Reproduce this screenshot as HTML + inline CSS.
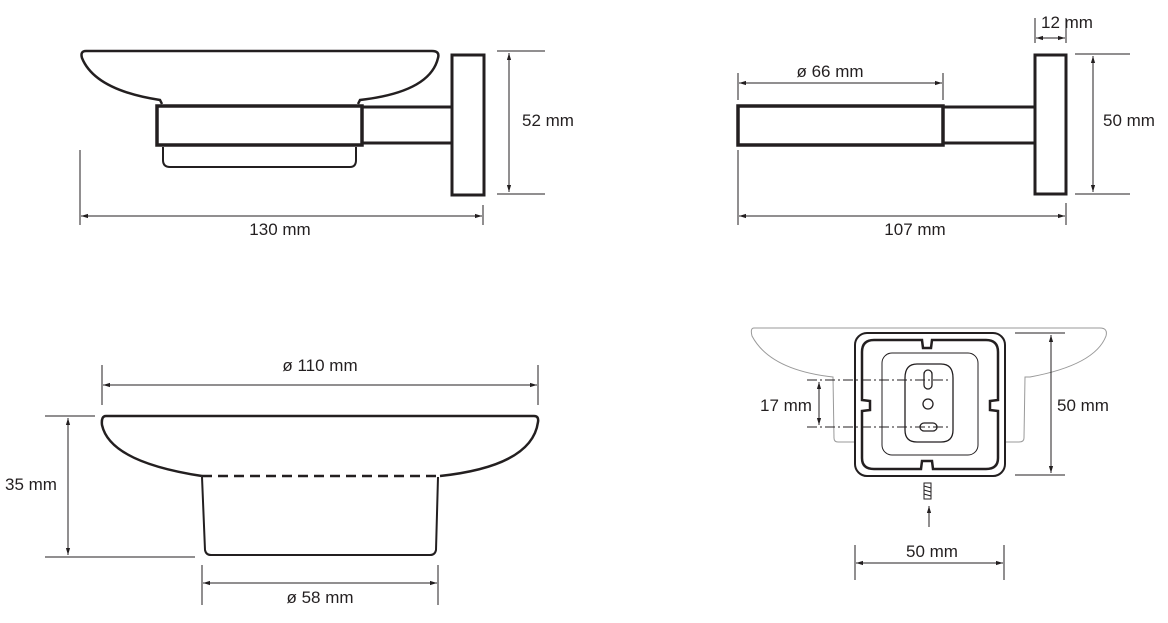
<!DOCTYPE html>
<html><head><meta charset="utf-8"><style>
html,body{margin:0;padding:0;background:#fff;width:1168px;height:623px;overflow:hidden}
svg text{font-family:"Liberation Sans",sans-serif;font-size:17px;fill:#231f20}
</style></head><body>
<svg width="1168" height="623" viewBox="0 0 1168 623" xmlns="http://www.w3.org/2000/svg">
<defs>
<marker id="a" viewBox="0 0 10 10" refX="10" refY="5" markerWidth="7" markerHeight="7" orient="auto-start-reverse"><path d="M0,2 L10,5 L0,8 z" fill="#231f20"/></marker>
</defs>
<g stroke="#231f20" fill="none">
<!-- TOP LEFT -->
<path d="M162,104 L160,100 Q95,90 82,58 Q80,51 86,51 L432,51 Q440,51 438,58 Q430,92 360,100 L358,104" stroke-width="2.5"/>
<rect x="157" y="106" width="205" height="39" stroke-width="3.5"/>
<rect x="362" y="107" width="90" height="36" stroke-width="3"/>
<rect x="452" y="55" width="32" height="140" stroke-width="3"/>
<path d="M163,147 L163,160 Q163,167 170,167 L350,167 Q356,167 356,160 L356,147" stroke-width="2"/>
<g stroke-width="1">
<path d="M497,51 H545 M497,194 H545"/>
<path d="M509,53 V192" marker-start="url(#a)" marker-end="url(#a)"/>
<path d="M80,150 V225 M483,205 V225"/>
<path d="M81,216 H482" marker-start="url(#a)" marker-end="url(#a)"/>
</g>
<!-- TOP RIGHT -->
<rect x="738" y="106" width="205" height="39" stroke-width="3.5"/>
<rect x="943" y="107" width="92" height="36" stroke-width="3"/>
<rect x="1035" y="55" width="31" height="139" stroke-width="3"/>
<g stroke-width="1">
<path d="M738,73 V100 M943,73 V100"/>
<path d="M739,83 H942" marker-start="url(#a)" marker-end="url(#a)"/>
<path d="M1035,18 V43 M1066,18 V43"/>
<path d="M1036,38 H1065" marker-start="url(#a)" marker-end="url(#a)"/>
<path d="M1075,54 H1130 M1075,194 H1130"/>
<path d="M1093,56 V192" marker-start="url(#a)" marker-end="url(#a)"/>
<path d="M738,150 V225 M1066,203 V225"/>
<path d="M739,216 H1065" marker-start="url(#a)" marker-end="url(#a)"/>
</g>
<!-- BOTTOM LEFT -->
<path d="M106,416 L534,416 Q539,416 538,422 Q532,466 440,476 M202,476 Q110,462 102,425 Q101,416 106,416" stroke-width="2.5"/>
<path d="M202,476 H440" stroke-width="2.5" stroke-dasharray="10,6"/>
<path d="M202,477 L205,550 Q206,555 211,555 L430,555 Q435,555 436,550 L438,477" stroke-width="2"/>
<g stroke-width="1">
<path d="M102,365 V405 M538,365 V405"/>
<path d="M103,385 H537" marker-start="url(#a)" marker-end="url(#a)"/>
<path d="M45,416 H95 M45,557 H195"/>
<path d="M68,418 V555" marker-start="url(#a)" marker-end="url(#a)"/>
<path d="M202,565 V605 M438,565 V605"/>
<path d="M203,583 H437" marker-start="url(#a)" marker-end="url(#a)"/>
</g>
<!-- BOTTOM RIGHT -->
<path d="M754,328 L1100,328 Q1108,328 1106,336 Q1095,365 1030,377 L1025,377 L1024,438 Q1024,442 1019,442 L1005,442 M855,442 L838,442 Q834,442 834,438 L833,377 Q770,370 752,336 Q750,328 754,328" stroke="#999" stroke-width="1"/>
<rect x="855" y="333" width="150" height="143" rx="12" stroke-width="2" fill="#fff"/>
<path d="M874,340 L922,340 L923,348 L931,348 L932,340 L986,340 Q998,340 998,352 L998,400 L990,401 L990,410 L998,411 L998,458 Q998,469 986,469 L933,469 L932,461 L922,461 L921,469 L874,469 Q862,469 862,458 L862,411 L870,410 L870,401 L862,400 L862,352 Q862,340 874,340 Z" stroke-width="2.5"/>
<rect x="882" y="353" width="96" height="102" rx="10" stroke-width="1"/>
<path d="M917,364 L941,364 Q953,364 953,378 L953,430 Q953,442 941,442 L917,442 Q905,442 905,430 L905,378 Q905,364 917,364 Z" stroke-width="1.3"/>
<rect x="924" y="370" width="8" height="19" rx="4" stroke-width="1.3"/>
<circle cx="928" cy="404" r="5" stroke-width="1.3"/>
<rect x="920" y="423" width="17" height="8" rx="4" stroke-width="1.3"/>
<g stroke-width="1">
<path d="M807,380 H950 M807,427 H950" stroke-dasharray="10,3,2,3"/>
<path d="M819,382 V425" marker-start="url(#a)" marker-end="url(#a)"/>
<path d="M1015,333 H1065 M1015,475 H1065"/>
<path d="M1051,335 V473" marker-start="url(#a)" marker-end="url(#a)"/>
<rect x="924" y="483" width="7" height="16"/>
<path d="M924,486 L931,488 M924,490 L931,492 M924,494 L931,496"/>
<path d="M929,527 V506" marker-end="url(#a)"/>
<path d="M855,545 V580 M1004,545 V580"/>
<path d="M856,563 H1003" marker-start="url(#a)" marker-end="url(#a)"/>
</g>
</g>
<text x="522" y="126">52 mm</text>
<text x="280" y="235" text-anchor="middle">130 mm</text>
<text x="830" y="77" text-anchor="middle">ø 66 mm</text>
<text x="1041" y="28">12 mm</text>
<text x="1103" y="126">50 mm</text>
<text x="915" y="235" text-anchor="middle">107 mm</text>
<text x="320" y="371" text-anchor="middle">ø 110 mm</text>
<text x="5" y="490">35 mm</text>
<text x="320" y="603" text-anchor="middle">ø 58 mm</text>
<text x="760" y="411">17 mm</text>
<text x="1057" y="411">50 mm</text>
<text x="932" y="557" text-anchor="middle">50 mm</text>
</svg>
</body></html>
